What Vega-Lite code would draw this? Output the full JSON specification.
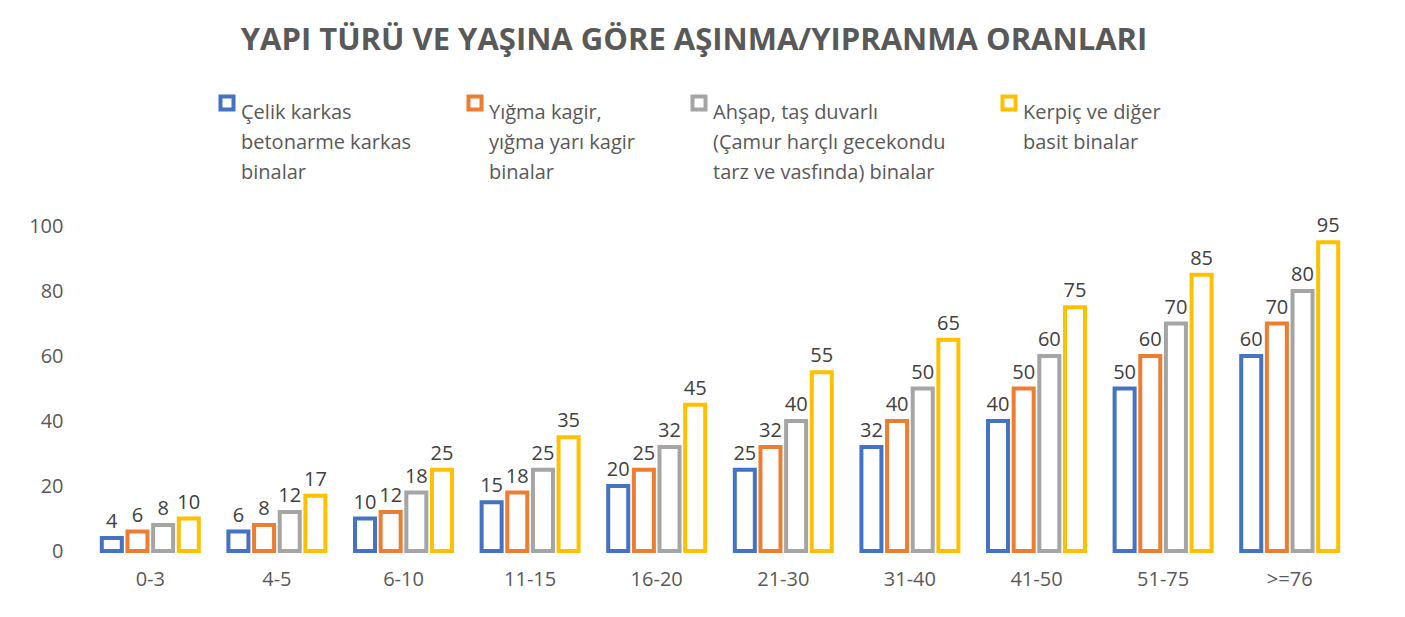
{
  "$schema": "https://vega.github.io/schema/vega-lite/v6.json",
  "width": 1266,
  "height": 325,
  "autosize": {"type": "none"},
  "padding": {"left": 87, "top": 226, "right": 52, "bottom": 66},
  "background": "white",
  "title": {
    "text": "YAPI TÜRÜ VE YAŞINA GÖRE AŞINMA/YIPRANMA ORANLARI",
    "anchor": "middle",
    "font": "Open Sans",
    "fontSize": 31,
    "fontWeight": "bold",
    "color": "#595959",
    "offset": 36,
    "dx": -26
  },
  "config": {
    "view": {"stroke": null},
    "font": "Open Sans",
    "style": {"guide-label": {"lineHeight": 30}}
  },
  "data": {
    "values": [
      {"yas": "0-3", "tur": "Çelik karkas|betonarme karkas|binalar", "oran": 4},
      {"yas": "0-3", "tur": "Yığma kagir,|yığma yarı kagir|binalar", "oran": 6},
      {"yas": "0-3", "tur": "Ahşap, taş duvarlı|(Çamur harçlı gecekondu|tarz ve vasfında) binalar", "oran": 8},
      {"yas": "0-3", "tur": "Kerpiç ve diğer|basit binalar", "oran": 10},
      {"yas": "4-5", "tur": "Çelik karkas|betonarme karkas|binalar", "oran": 6},
      {"yas": "4-5", "tur": "Yığma kagir,|yığma yarı kagir|binalar", "oran": 8},
      {"yas": "4-5", "tur": "Ahşap, taş duvarlı|(Çamur harçlı gecekondu|tarz ve vasfında) binalar", "oran": 12},
      {"yas": "4-5", "tur": "Kerpiç ve diğer|basit binalar", "oran": 17},
      {"yas": "6-10", "tur": "Çelik karkas|betonarme karkas|binalar", "oran": 10},
      {"yas": "6-10", "tur": "Yığma kagir,|yığma yarı kagir|binalar", "oran": 12},
      {"yas": "6-10", "tur": "Ahşap, taş duvarlı|(Çamur harçlı gecekondu|tarz ve vasfında) binalar", "oran": 18},
      {"yas": "6-10", "tur": "Kerpiç ve diğer|basit binalar", "oran": 25},
      {"yas": "11-15", "tur": "Çelik karkas|betonarme karkas|binalar", "oran": 15},
      {"yas": "11-15", "tur": "Yığma kagir,|yığma yarı kagir|binalar", "oran": 18},
      {"yas": "11-15", "tur": "Ahşap, taş duvarlı|(Çamur harçlı gecekondu|tarz ve vasfında) binalar", "oran": 25},
      {"yas": "11-15", "tur": "Kerpiç ve diğer|basit binalar", "oran": 35},
      {"yas": "16-20", "tur": "Çelik karkas|betonarme karkas|binalar", "oran": 20},
      {"yas": "16-20", "tur": "Yığma kagir,|yığma yarı kagir|binalar", "oran": 25},
      {"yas": "16-20", "tur": "Ahşap, taş duvarlı|(Çamur harçlı gecekondu|tarz ve vasfında) binalar", "oran": 32},
      {"yas": "16-20", "tur": "Kerpiç ve diğer|basit binalar", "oran": 45},
      {"yas": "21-30", "tur": "Çelik karkas|betonarme karkas|binalar", "oran": 25},
      {"yas": "21-30", "tur": "Yığma kagir,|yığma yarı kagir|binalar", "oran": 32},
      {"yas": "21-30", "tur": "Ahşap, taş duvarlı|(Çamur harçlı gecekondu|tarz ve vasfında) binalar", "oran": 40},
      {"yas": "21-30", "tur": "Kerpiç ve diğer|basit binalar", "oran": 55},
      {"yas": "31-40", "tur": "Çelik karkas|betonarme karkas|binalar", "oran": 32},
      {"yas": "31-40", "tur": "Yığma kagir,|yığma yarı kagir|binalar", "oran": 40},
      {"yas": "31-40", "tur": "Ahşap, taş duvarlı|(Çamur harçlı gecekondu|tarz ve vasfında) binalar", "oran": 50},
      {"yas": "31-40", "tur": "Kerpiç ve diğer|basit binalar", "oran": 65},
      {"yas": "41-50", "tur": "Çelik karkas|betonarme karkas|binalar", "oran": 40},
      {"yas": "41-50", "tur": "Yığma kagir,|yığma yarı kagir|binalar", "oran": 50},
      {"yas": "41-50", "tur": "Ahşap, taş duvarlı|(Çamur harçlı gecekondu|tarz ve vasfında) binalar", "oran": 60},
      {"yas": "41-50", "tur": "Kerpiç ve diğer|basit binalar", "oran": 75},
      {"yas": "51-75", "tur": "Çelik karkas|betonarme karkas|binalar", "oran": 50},
      {"yas": "51-75", "tur": "Yığma kagir,|yığma yarı kagir|binalar", "oran": 60},
      {"yas": "51-75", "tur": "Ahşap, taş duvarlı|(Çamur harçlı gecekondu|tarz ve vasfında) binalar", "oran": 70},
      {"yas": "51-75", "tur": "Kerpiç ve diğer|basit binalar", "oran": 85},
      {"yas": ">=76", "tur": "Çelik karkas|betonarme karkas|binalar", "oran": 60},
      {"yas": ">=76", "tur": "Yığma kagir,|yığma yarı kagir|binalar", "oran": 70},
      {"yas": ">=76", "tur": "Ahşap, taş duvarlı|(Çamur harçlı gecekondu|tarz ve vasfında) binalar", "oran": 80},
      {"yas": ">=76", "tur": "Kerpiç ve diğer|basit binalar", "oran": 95}
    ]
  },
  "encoding": {
    "x": {
      "field": "yas",
      "type": "nominal",
      "sort": null,
      "scale": {"paddingInner": 0.234, "paddingOuter": 0.117},
      "axis": {
        "title": null,
        "labelAngle": 0,
        "labelFontSize": 20,
        "labelColor": "#595959",
        "labelPadding": 18,
        "ticks": false,
        "domain": false,
        "grid": false
      }
    },
    "xOffset": {
      "field": "tur",
      "type": "nominal",
      "sort": null,
      "scale": {
        "domain": [
          "Çelik karkas|betonarme karkas|binalar",
          "Yığma kagir,|yığma yarı kagir|binalar",
          "Ahşap, taş duvarlı|(Çamur harçlı gecekondu|tarz ve vasfında) binalar",
          "Kerpiç ve diğer|basit binalar"
        ],
        "paddingInner": 0.22,
        "paddingOuter": 0
      }
    },
    "y": {
      "field": "oran",
      "type": "quantitative",
      "scale": {"domain": [0, 100], "nice": false},
      "axis": {
        "title": null,
        "values": [0, 20, 40, 60, 80, 100],
        "labelFontSize": 20,
        "labelColor": "#595959",
        "labelPadding": 24,
        "ticks": false,
        "domain": false,
        "grid": false
      }
    }
  },
  "layer": [
    {
      "mark": {"type": "bar", "fill": "white", "strokeWidth": 4},
      "encoding": {
        "stroke": {
          "field": "tur",
          "type": "nominal",
          "scale": {
            "domain": [
              "Çelik karkas|betonarme karkas|binalar",
              "Yığma kagir,|yığma yarı kagir|binalar",
              "Ahşap, taş duvarlı|(Çamur harçlı gecekondu|tarz ve vasfında) binalar",
              "Kerpiç ve diğer|basit binalar"
            ],
            "range": ["#4472C4", "#ED7D31", "#A5A5A5", "#FFC000"]
          },
          "legend": {
            "title": null,
            "orient": "none",
            "legendX": 130,
            "legendY": -133,
            "direction": "horizontal",
            "columns": 4,
            "columnPadding": 48,
            "symbolType": "square",
            "symbolSize": 170,
            "symbolStrokeWidth": 4,
            "symbolFillColor": "white",
            "symbolOpacity": 1,
            "labelFontSize": 20,
            "labelColor": "#595959",
            "labelLimit": 400,
            "labelBaseline": "top",
            "labelExpr": "split(datum.label + (datum.label == 'Kerpiç ve diğer|basit binalar' ? '| ' : ''), '|')",
            "encode": {
              "symbols": {"update": {"y": {"value": 17}}}
            }
          }
        }
      }
    },
    {
      "mark": {"type": "text", "baseline": "alphabetic", "dy": -10, "fontSize": 20, "color": "#404040"},
      "encoding": {
        "text": {"field": "oran", "type": "quantitative"}
      }
    }
  ]
}
